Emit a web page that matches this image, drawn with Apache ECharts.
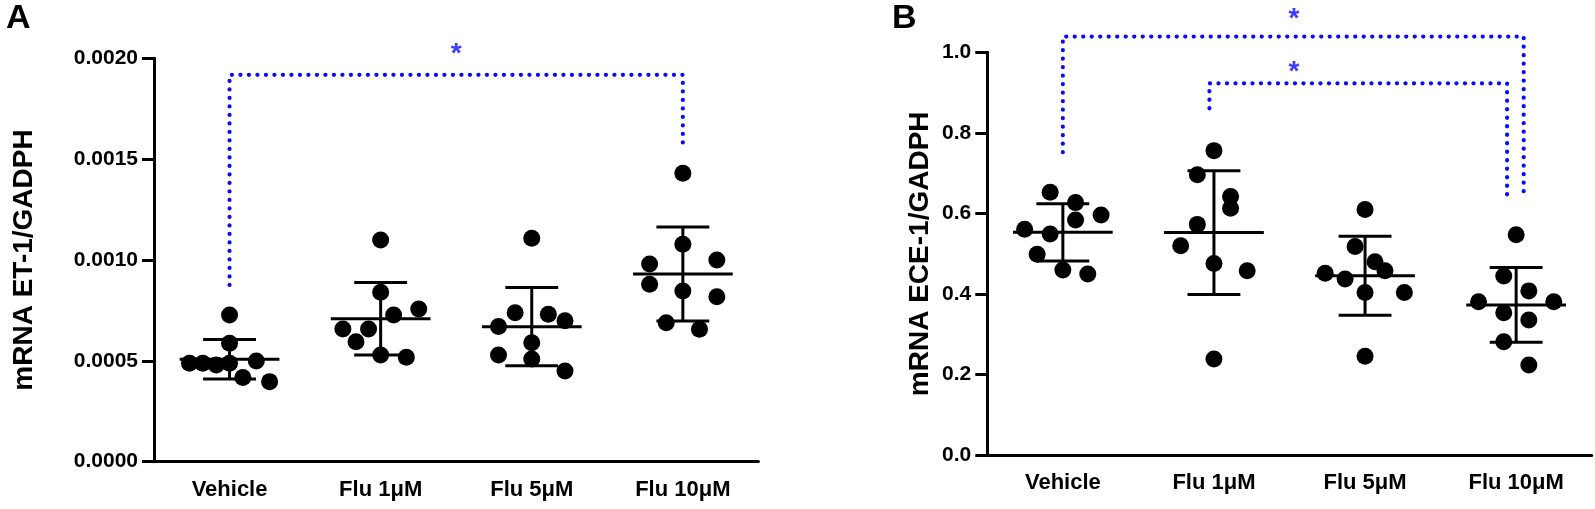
<!DOCTYPE html>
<html>
<head>
    <meta charset="utf-8">
    <title>mRNA ET-1 / ECE-1</title>
    <script src="https://cdn.jsdelivr.net/npm/echarts@6/dist/echarts.min.js"></script>
    <style>
        html, body { margin: 0; padding: 0; background: #fff; }
        #chart { width: 1595px; height: 509px; }
    </style>
</head>
<body>
<div id="chart"></div>
<script>
    // groups on the x axis
    var categories = ['Vehicle', 'Flu 1μM', 'Flu 5μM', 'Flu 10μM'];

    // panel A: mRNA ET-1/GADPH, one array per group
    var et1Vehicle = [0.000727, 0.000587, 0.000488, 0.000488, 0.000480, 0.000488, 0.000499, 0.000418, 0.000397];
    var et1Flu1 = [0.001099, 0.000840, 0.000727, 0.000757, 0.000658, 0.000658, 0.000595, 0.000529, 0.000518];
    var et1Flu5 = [0.001108, 0.000739, 0.000731, 0.000699, 0.000670, 0.000590, 0.000529, 0.000509, 0.000450];
    var et1Flu10 = [0.001430, 0.001078, 0.000980, 0.001000, 0.000880, 0.000846, 0.000818, 0.000689, 0.000657];
    // horizontal scatter of the dots, in category units
    var et1JitVehicle = [0, 0, -0.265, -0.177, -0.088, 0, 0.177, 0.088, 0.265];
    var et1JitFlu1 = [0, 0, 0.086, 0.252, -0.25, -0.08, -0.163, 0, 0.17];
    var et1JitFlu5 = [0, -0.11, 0.11, 0.22, -0.22, 0, -0.22, 0, 0.22];
    var et1JitFlu10 = [0, 0, -0.22, 0.225, -0.22, 0, 0.225, -0.11, 0.11];

    // panel B: mRNA ECE-1/GADPH
    var eceVehicle = [0.653, 0.627, 0.596, 0.584, 0.561, 0.549, 0.499, 0.460, 0.450];
    var eceFlu1 = [0.756, 0.696, 0.642, 0.613, 0.573, 0.520, 0.476, 0.458, 0.239];
    var eceFlu5 = [0.610, 0.518, 0.480, 0.458, 0.452, 0.4375, 0.404, 0.404, 0.246];
    var eceFlu10 = [0.547, 0.445, 0.408, 0.381, 0.381, 0.354, 0.336, 0.282, 0.224];
    var eceJitVehicle = [-0.084, 0.084, 0.253, 0.084, -0.253, -0.084, -0.17, 0, 0.165];
    var eceJitFlu1 = [0, -0.11, 0.11, 0.11, -0.11, -0.22, 0, 0.22, 0];
    var eceJitFlu5 = [0, -0.066, 0.066, 0.132, -0.264, -0.132, 0, 0.26, 0];
    var eceJitFlu10 = [0, -0.082, 0.084, -0.249, 0.249, -0.082, 0.084, -0.082, 0.084];

    // y axis ticks
    var et1Ticks = { min: 0, max: 0.002, step: 0.0005 };
    var eceTicks = { min: 0, max: 1.0, step: 0.2 };

    // significance brackets: [from group, to group, left end, top, right end]
    var et1Brackets = [[0, 3, 0.000876, 0.001918, 0.001554]];
    var eceBrackets = [
        [0, 3.05, 0.752, 1.039, 0.646],
        [0.97, 2.94, 0.861, 0.923, 0.636]
    ];
    // stars: [x, y]
    var et1Stars = [[1.5, 0.002048]];
    var eceStars = [[1.53, 1.098], [1.53, 0.9655]];

    var FONT = 'Liberation Sans, Arial, Helvetica, sans-serif';
    var BLUE = '#0a0aff';

    function points(vals, jit, g) {
        var out = [];
        for (var i = 0; i < vals.length; i++) out.push([g + jit[i], vals[i]]);
        return out;
    }

    function meanSd(vals, g) {
        var m = 0, s = 0;
        vals.forEach(function (v) { m += v; });
        m = m / vals.length;
        vals.forEach(function (v) { s += (v - m) * (v - m); });
        s = Math.sqrt(s / (vals.length - 1));
        return [g, m, s];
    }

    function renderErrorBar(params, api) {
        var x = api.value(0), m = api.value(1), s = api.value(2);
        var c = api.coord([x, m]);
        var hi = api.coord([x, m + s]);
        var lo = api.coord([x, m - s]);
        var half = api.size([0.33, 0])[0];
        var cap = api.size([0.175, 0])[0];
        var st = { stroke: '#000', lineWidth: 3 };
        return {
            type: 'group',
            children: [
                { type: 'line', shape: { x1: c[0] - half, y1: c[1], x2: c[0] + half, y2: c[1] }, style: st },
                { type: 'line', shape: { x1: c[0], y1: hi[1], x2: c[0], y2: lo[1] }, style: st },
                { type: 'line', shape: { x1: c[0] - cap, y1: hi[1], x2: c[0] + cap, y2: hi[1] }, style: st },
                { type: 'line', shape: { x1: c[0] - cap, y1: lo[1], x2: c[0] + cap, y2: lo[1] }, style: st }
            ]
        };
    }

    function panelSeries(groups, jits, brackets, stars, xi, yi) {
        var all = [], bars = [];
        groups.forEach(function (vals, g) {
            all = all.concat(points(vals, jits[g], g));
            bars.push(meanSd(vals, g));
        });
        var list = [
            {
                type: 'scatter', xAxisIndex: xi, yAxisIndex: yi, data: all,
                symbolSize: 17, itemStyle: { color: '#000', opacity: 1 }, silent: true, z: 3
            },
            {
                type: 'custom', xAxisIndex: xi, yAxisIndex: yi, data: bars,
                renderItem: renderErrorBar, silent: true, z: 4
            }
        ];
        brackets.forEach(function (b) {
            list.push({
                type: 'line', xAxisIndex: xi, yAxisIndex: yi, clip: false, silent: true,
                symbol: 'none', animation: false,
                data: [[b[0], b[2]], [b[0], b[3]], [b[1], b[3]], [b[1], b[4]]],
                lineStyle: { color: BLUE, width: 4.2, type: [0.1, 8.4], cap: 'round' }
            });
        });
        list.push({
            type: 'scatter', xAxisIndex: xi, yAxisIndex: yi, clip: false, silent: true,
            data: stars, symbolSize: 1, itemStyle: { color: 'rgba(0,0,0,0)' },
            label: {
                show: true, position: 'inside', formatter: '*', color: BLUE,
                fontSize: 28, fontWeight: 'bold', fontFamily: FONT, offset: [0, 6]
            }
        });
        return list;
    }

    function catAxis(gi) {
        return {
            type: 'category', gridIndex: gi, data: categories, boundaryGap: true,
            axisLine: { lineStyle: { color: '#000', width: 3 } },
            axisTick: { alignWithLabel: true, length: 12, lineStyle: { color: '#000', width: 3 } },
            axisLabel: { color: '#000', fontSize: 22, fontWeight: 'bold', fontFamily: FONT, margin: 17 },
            splitLine: { show: false }
        };
    }

    function valXAxis(gi) {
        return { type: 'value', gridIndex: gi, min: -0.5, max: 3.5, show: false, splitLine: { show: false } };
    }

    function valYAxis(gi, t, digits, name, gap) {
        return {
            type: 'value', gridIndex: gi, min: t.min, max: t.max, interval: t.step,
            name: name, nameLocation: 'middle', nameRotate: 90, nameGap: gap,
            nameTextStyle: { color: '#000', fontSize: 28, fontWeight: 'bold', fontFamily: FONT },
            axisLine: { show: true, onZero: false, lineStyle: { color: '#000', width: 3 } },
            axisTick: { show: true, length: 12, lineStyle: { color: '#000', width: 3 } },
            axisLabel: {
                color: '#000', fontSize: 21, fontWeight: 'bold', fontFamily: FONT, margin: 16,
                formatter: function (v) { return v.toFixed(digits); }
            },
            splitLine: { show: false }
        };
    }

    var chart = echarts.init(document.getElementById('chart'), null, { renderer: 'canvas' });

    var option = {
        backgroundColor: '#fff',
        animation: false,
        grid: [
            { left: 154, top: 58.3, width: 604.4, height: 403.4 },
            { left: 987.3, top: 52.3, width: 604.4, height: 403 }
        ],
        xAxis: [catAxis(0), valXAxis(0), catAxis(1), valXAxis(1)],
        yAxis: [
            valYAxis(0, et1Ticks, 4, 'mRNA ET-1/GADPH', 116),
            valYAxis(1, eceTicks, 1, 'mRNA ECE-1/GADPH', 53)
        ],
        graphic: [
            { type: 'text', left: 6, top: 2, style: { text: 'A', fontSize: 34, fontWeight: 'bold', fontFamily: FONT, fill: '#000' } },
            { type: 'text', left: 892, top: 2, style: { text: 'B', fontSize: 34, fontWeight: 'bold', fontFamily: FONT, fill: '#000' } }
        ],
        series: panelSeries(
            [et1Vehicle, et1Flu1, et1Flu5, et1Flu10],
            [et1JitVehicle, et1JitFlu1, et1JitFlu5, et1JitFlu10],
            et1Brackets, et1Stars, 1, 0
        ).concat(panelSeries(
            [eceVehicle, eceFlu1, eceFlu5, eceFlu10],
            [eceJitVehicle, eceJitFlu1, eceJitFlu5, eceJitFlu10],
            eceBrackets, eceStars, 3, 1
        ))
    };

    chart.setOption(option);
</script>
</body>
</html>
